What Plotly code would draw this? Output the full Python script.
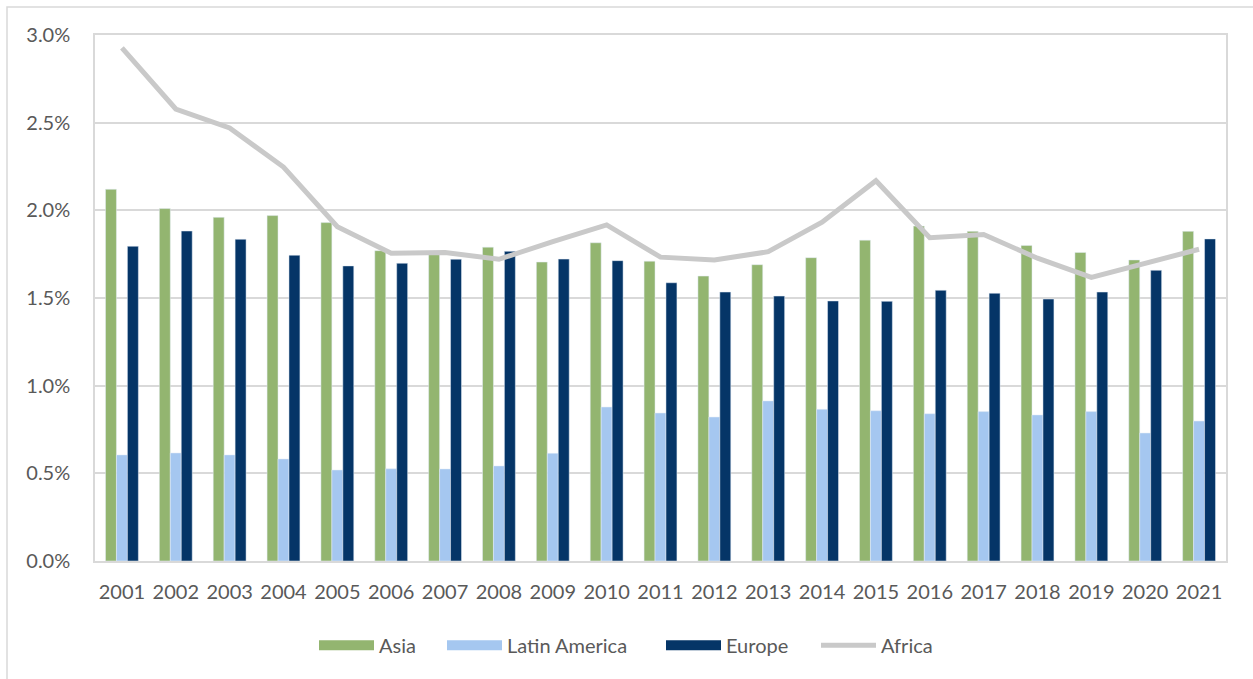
import plotly.graph_objects as go

# Annual rates by region, in percent
years = [str(y) for y in range(2001, 2022)]
asia = [2.12, 2.01, 1.96, 1.97, 1.93, 1.77, 1.75, 1.79, 1.705, 1.815, 1.71, 1.625,
        1.69, 1.73, 1.83, 1.91, 1.88, 1.80, 1.76, 1.717, 1.88]
latin_america = [0.605, 0.616, 0.605, 0.582, 0.519, 0.526, 0.525, 0.542, 0.614, 0.878,
                 0.844, 0.821, 0.913, 0.865, 0.857, 0.840, 0.852, 0.833, 0.852, 0.730, 0.798]
europe = [1.795, 1.882, 1.835, 1.744, 1.683, 1.698, 1.721, 1.766, 1.722, 1.713, 1.587,
          1.534, 1.511, 1.483, 1.481, 1.544, 1.527, 1.494, 1.534, 1.658, 1.837]
africa = [2.926, 2.578, 2.47, 2.247, 1.907, 1.755, 1.759, 1.721, 1.822, 1.917, 1.733,
          1.717, 1.764, 1.932, 2.169, 1.844, 1.862, 1.727, 1.618, 1.698, 1.778]
y_ticks = [0, 0.5, 1.0, 1.5, 2.0, 2.5, 3.0]
y_tick_text = [f"{v:.1f}%" for v in y_ticks]

FONT = "Lato"
TEXT = "#595959"
GRID = "#d9d9d9"
COLORS = {"Asia": "#93B570", "Latin America": "#A5C7F0", "Europe": "#053567"}

# plot area spans 95..1226 px horizontally; legend entries placed individually
PLOT_L, PLOT_W = 95, 1131
legend_px = {"legend": 323, "legend2": 451, "legend3": 670, "legend4": 825}

fig = go.Figure()
for name, vals, lg in (("Asia", asia, "legend"),
                       ("Latin America", latin_america, "legend2"),
                       ("Europe", europe, "legend3")):
    fig.add_trace(go.Bar(name=name, x=years, y=vals, marker_color=COLORS[name],
                         legendgroup=name, showlegend=False))
    # wide rectangular legend swatch for the bar series
    fig.add_trace(go.Scatter(name=name, x=[None], y=[None], mode="lines", legend=lg,
                             legendgroup=name, line=dict(color=COLORS[name], width=13)))
fig.add_trace(go.Scatter(name="Africa", x=years, y=africa, mode="lines", legend="legend4",
                         line=dict(color="#C9C9C9", width=5)))

legend_style = dict(orientation="h", xanchor="left", y=-0.16, yanchor="middle",
                    font=dict(family=FONT, size=20, color=TEXT), itemwidth=55,
                    bgcolor="rgba(0,0,0,0)")
legends = {k: dict(legend_style, x=(px - PLOT_L - 9) / PLOT_W) for k, px in legend_px.items()}

fig.update_layout(
    width=1253, height=679,
    margin=dict(l=95, r=27, t=35, b=118),
    paper_bgcolor="white", plot_bgcolor="white",
    barmode="group", bargap=0.39, bargroupgap=0,
    font=dict(family=FONT, size=20, color=TEXT),
    showlegend=True,
    **legends,
    xaxis=dict(type="category", showgrid=False, showline=True, linecolor=GRID,
               linewidth=1.5, mirror=True, ticks="outside", ticklen=12, tickcolor="white",
               tickfont=dict(size=20, color=TEXT)),
    yaxis=dict(range=[0, 3.0], tickvals=y_ticks, ticktext=y_tick_text,
               showgrid=True, gridcolor=GRID, gridwidth=1.5, zeroline=False,
               showline=True, linecolor=GRID, linewidth=1.5, mirror=True,
               ticks="outside", ticklen=19, tickcolor="white",
               tickfont=dict(size=20, color=TEXT)),
    shapes=[dict(type="rect", xref="paper", yref="paper",
                 x0=-88 / 1131, x1=1.05, y0=-0.3, y1=1 + 28 / 526,
                 line=dict(color=GRID, width=1.5), fillcolor="rgba(0,0,0,0)", layer="below")],
)

fig.write_html("out.html")
